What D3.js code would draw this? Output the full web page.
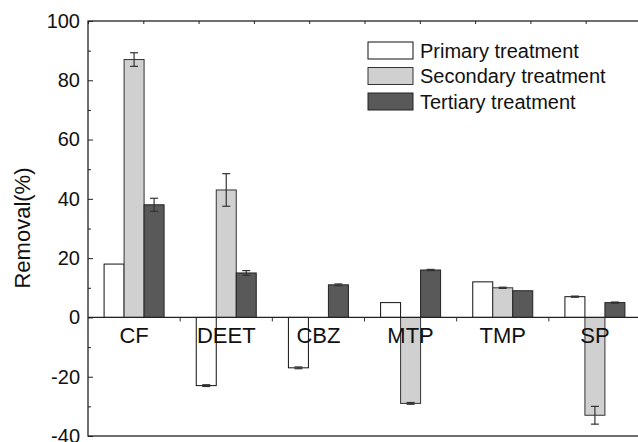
<!DOCTYPE html>
<html>
<head>
<meta charset="utf-8">
<script src="https://cdn.jsdelivr.net/npm/d3@7"></script>
<style>
  body { margin: 0; background: #fff; }
  svg { display: block; font-family: "Liberation Sans", Arial, sans-serif; }
  .axis path { display: none; }
  .axis line { stroke: #222; }
  .axis text { fill: #111; }
</style>
</head>
<body>
<svg id="chart" width="638" height="442"></svg>
<script>
var categories = ['CF', 'DEET', 'CBZ', 'MTP', 'TMP', 'SP'];
var series = ['Primary treatment', 'Secondary treatment', 'Tertiary treatment'];
var primary = [18, -23, -17, 5, 12, 7];
var secondary = [87, 43, 0, -29, 10, -33];
var tertiary = [38, 15, 11, 16, 9, 5];
var primaryErr = [0, 0.3, 0.3, 0, 0, 0.2];
var secondaryErr = [2.3, 5.5, 0, 0.3, 0.2, 3];
var tertiaryErr = [2.2, 0.8, 0.3, 0.2, 0, 0.2];
var yTicks = [-40, -20, 0, 20, 40, 60, 80, 100];
var yMinorTicks = [-30, -10, 10, 30, 50, 70, 90];

var fills = ['#ffffff', '#d0d0d0', '#595959'];
var strokes = ['#111', '#333', '#222'];

var svg = d3.select('#chart');
var plotLeft = 88, plotRight = 641, plotTop = 21, plotBottom = 436;

var y = d3.scaleLinear().domain([-40, 100]).range([plotBottom, plotTop]);
var x = d3.scaleBand().domain(categories).range([plotLeft, plotRight]).padding(0);
var xs = d3.scaleBand().domain(series).range([-30, 30]).padding(0);

var values = [primary, secondary, tertiary];
var errs = [primaryErr, secondaryErr, tertiaryErr];
var rows = [];
series.forEach(function (s, si) {
    categories.forEach(function (c, ci) {
        rows.push({ cat: c, s: s, si: si, v: values[si][ci], e: errs[si][ci] });
    });
});

// frame
svg.append('rect')
    .attr('x', plotLeft).attr('y', plotTop)
    .attr('width', plotRight - plotLeft).attr('height', plotBottom - plotTop)
    .attr('fill', 'none').attr('stroke', '#222').attr('stroke-width', 1.3);

// bars
var bars = svg.append('g');
bars.selectAll('rect')
    .data(rows.filter(function (d) { return d.v !== 0; }))
    .enter().append('rect')
    .attr('x', function (d) { return x(d.cat) + x.bandwidth() / 2 + xs(d.s); })
    .attr('width', xs.bandwidth())
    .attr('y', function (d) { return y(Math.max(0, d.v)); })
    .attr('height', function (d) { return Math.abs(y(d.v) - y(0)); })
    .attr('fill', function (d) { return fills[d.si]; })
    .attr('stroke', function (d) { return strokes[d.si]; })
    .attr('stroke-width', 1);

// error bars
var eb = svg.append('g').attr('stroke', '#333').attr('stroke-width', 1.2);
rows.filter(function (d) { return d.e > 0; }).forEach(function (d) {
    var cx = x(d.cat) + x.bandwidth() / 2 + xs(d.s) + xs.bandwidth() / 2;
    eb.append('line').attr('x1', cx).attr('x2', cx)
        .attr('y1', y(d.v + d.e)).attr('y2', y(d.v - d.e));
    [d.v + d.e, d.v - d.e].forEach(function (v) {
        eb.append('line').attr('x1', cx - 4).attr('x2', cx + 4)
            .attr('y1', y(v)).attr('y2', y(v));
    });
});

// zero axis line
svg.append('line')
    .attr('x1', plotLeft).attr('x2', plotRight)
    .attr('y1', y(0)).attr('y2', y(0))
    .attr('stroke', '#222').attr('stroke-width', 1.3);

// ticks at category boundaries on zero line
svg.append('g').selectAll('line')
    .data(categories.slice(1))
    .enter().append('line')
    .attr('x1', function (d) { return x(d); })
    .attr('x2', function (d) { return x(d); })
    .attr('y1', y(0)).attr('y2', y(0) + 4)
    .attr('stroke', '#333');

// category labels
svg.append('g').selectAll('text')
    .data(categories)
    .enter().append('text')
    .attr('x', function (d) { return x(d) + x.bandwidth() / 2; })
    .attr('y', y(0) + 26)
    .attr('text-anchor', 'middle')
    .attr('font-size', 22)
    .attr('fill', '#111')
    .text(function (d) { return d; });

// top axis ticks
var xTop = d3.scaleLinear().domain([0, 10]).range([plotLeft, plotRight]);
svg.append('g').attr('class', 'axis')
    .attr('transform', 'translate(0,' + plotTop + ')')
    .call(d3.axisTop(xTop).ticks(10).tickSize(-3).tickFormat(''));

// left axis (plain hyphen for negatives, as in the original)
svg.append('g').attr('class', 'axis')
    .attr('transform', 'translate(' + plotLeft + ',0)')
    .call(d3.axisLeft(y).tickValues(yTicks).tickSize(-5).tickPadding(8)
        .tickFormat(function (d) { return String(d); }))
    .selectAll('text').attr('font-size', 20);
svg.append('g').attr('class', 'axis')
    .attr('transform', 'translate(' + plotLeft + ',0)')
    .call(d3.axisLeft(y).tickValues(yMinorTicks).tickSize(-3).tickFormat(''));

// y title
svg.append('text')
    .attr('transform', 'translate(30,228) rotate(-90)')
    .attr('text-anchor', 'middle')
    .attr('font-size', 22)
    .attr('fill', '#111')
    .text('Removal(%)');

// legend
var legend = svg.append('g').attr('transform', 'translate(368,42)');
series.forEach(function (s, i) {
    var g = legend.append('g').attr('transform', 'translate(0,' + i * 25.5 + ')');
    g.append('rect').attr('width', 45).attr('height', 17)
        .attr('fill', fills[i]).attr('stroke', strokes[i]).attr('stroke-width', 1);
    g.append('text').attr('x', 52).attr('y', 15.5)
        .attr('font-size', 20).attr('fill', '#111')
        .text(s);
});
</script>
</body>
</html>
